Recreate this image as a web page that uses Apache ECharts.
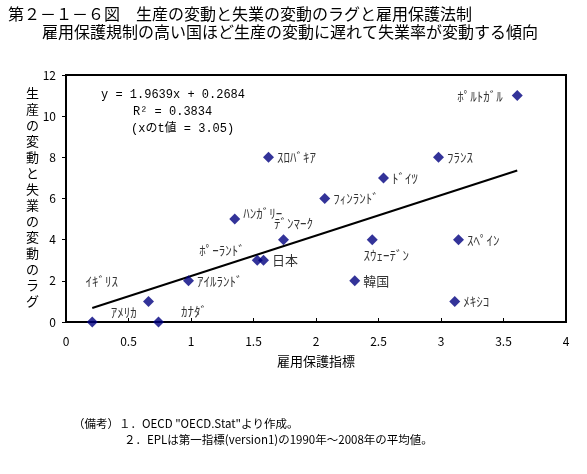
<!DOCTYPE html>
<html><head><meta charset="utf-8">
<script src="https://cdn.jsdelivr.net/npm/echarts@6/dist/echarts.min.js"></script>
<style>html,body{margin:0;padding:0;background:#fff}#c{width:587px;height:474px}</style>
</head><body><div id="c"></div>
<script>
const countries = ['ﾎﾟﾙﾄｶﾞﾙ','ｽﾛﾊﾞｷｱ','ﾌﾗﾝｽ','ﾄﾞｲﾂ','ﾌｨﾝﾗﾝﾄﾞ','ﾊﾝｶﾞﾘｰ','ﾃﾞﾝﾏｰｸ','ｽｳｪｰﾃﾞﾝ','ｽﾍﾟｲﾝ','ﾎﾟｰﾗﾝﾄﾞ','日本','韓国','ｱｲﾙﾗﾝﾄﾞ','ｲｷﾞﾘｽ','ﾒｷｼｺ','ｱﾒﾘｶ','ｶﾅﾀﾞ'];
const eplIndex = [3.61, 1.62, 2.98, 2.54, 2.07, 1.35, 1.74, 2.45, 3.14, 1.53, 1.58, 2.31, 0.98, 0.66, 3.11, 0.21, 0.74];
const lagValue = [11, 8, 8, 7, 6, 5, 4, 4, 4, 3, 3, 2, 2, 1, 1, 0, 0];
const slope = 1.9639, intercept = 0.2684, r2 = 0.3834, tValue = 3.05;
const xTicks = [0, 4, 0.5];
const yTicks = [0, 12, 2];

// label placement (style only)
const labelPos = {
  'ﾎﾟﾙﾄｶﾞﾙ': {position:'left', offset:[-6,0]},
  'ﾊﾝｶﾞﾘｰ': {position:'right', offset:[0,-6]},
  'ﾃﾞﾝﾏｰｸ': {position:'top', offset:[10,-2]},
  'ｽｳｪｰﾃﾞﾝ': {position:'bottom', offset:[14,0]},
  'ﾎﾟｰﾗﾝﾄﾞ': {position:'left', offset:[-4,-10]},
  'ｲｷﾞﾘｽ': {position:'left', offset:[-22,-20]},
  'ｱﾒﾘｶ': {position:'right', offset:[10,-10]},
  'ｶﾅﾀﾞ': {position:'right', offset:[14,-11]}
};
const font = '"Noto Sans CJK JP", sans-serif';
const mono = '"Liberation Mono", "Noto Sans CJK JP", monospace';
const pts = countries.map((n,i)=>{
  const lp = labelPos[n] || {position:'right', offset:[0,0]};
  return {name:n, value:[eplIndex[i], lagValue[i]], label:{show:true, formatter:n, position:lp.position, offset:lp.offset, distance:3}};
});
const xmin = Math.min(...eplIndex), xmax = Math.max(...eplIndex);
const fit = [[xmin, slope*xmin+intercept],[xmax, slope*xmax+intercept]];

const chart = echarts.init(document.getElementById('c'));
chart.setOption({
  animation:false,
  textStyle:{fontFamily:font},
  grid:{left:66, right:21, top:75, bottom:152, show:true, borderColor:'#000', borderWidth:2},
  xAxis:{type:'value', min:xTicks[0], max:xTicks[1], interval:xTicks[2],
    axisLine:{lineStyle:{color:'#000', width:2}}, axisTick:{inside:true, length:4, lineStyle:{color:'#000'}},
    splitLine:{show:false}, axisLabel:{color:'#000', fontSize:12, margin:13, fontFamily:font},
    name:'雇用保護指標', nameLocation:'middle', nameGap:33, nameTextStyle:{color:'#000', fontSize:13, fontFamily:font}},
  yAxis:{type:'value', min:yTicks[0], max:yTicks[1], interval:yTicks[2],
    axisLine:{lineStyle:{color:'#000', width:2}}, axisTick:{inside:false, length:4, lineStyle:{color:'#000'}},
    splitLine:{show:false}, axisLabel:{color:'#000', fontSize:12, margin:10, fontFamily:font}},
  series:[
    {type:'line', data:fit, symbol:'none', lineStyle:{color:'#000', width:2}, z:1, silent:true},
    {type:'scatter', data:pts, symbol:'diamond', symbolSize:11, itemStyle:{color:'#000080'},
     label:{color:'#000', fontSize:13, fontFamily:font}, z:3}
  ],
  graphic:[
    {type:'text', left:8, top:6, style:{text:'第２－１－６図　生産の変動と失業の変動のラグと雇用保護法制', font:'16px '+font, fill:'#000'}},
    {type:'text', left:42, top:24, style:{text:'雇用保護規制の高い国ほど生産の変動に遅れて失業率が変動する傾向', font:'16px '+font, fill:'#000'}},
    {type:'text', left:26, top:85, style:{text:'生産の変動と失業の変動のラグ'.split('').join('\n'), font:'13px '+font, lineHeight:16, fill:'#000', align:'center'}},
    {type:'text', left:101, top:89, style:{text:'y = ' + slope + 'x + ' + intercept, font:'12px '+mono, fill:'#000'}},
    {type:'text', left:133, top:106, style:{text:'R² = ' + r2, font:'12px '+mono, fill:'#000'}},
    {type:'text', left:131, top:123, style:{text:'(xのt値 = ' + tValue.toFixed(2) + ')', font:'12px '+mono, fill:'#000'}},
    {type:'text', left:73, top:418, style:{text:'（備考）１．OECD "OECD.Stat"より作成。', font:'11.5px '+font, fill:'#000'}},
    {type:'text', left:124, top:434, style:{text:'２．EPLは第一指標(version1)の1990年～2008年の平均値。', font:'11.5px '+font, fill:'#000'}}
  ]
});
</script></body></html>
